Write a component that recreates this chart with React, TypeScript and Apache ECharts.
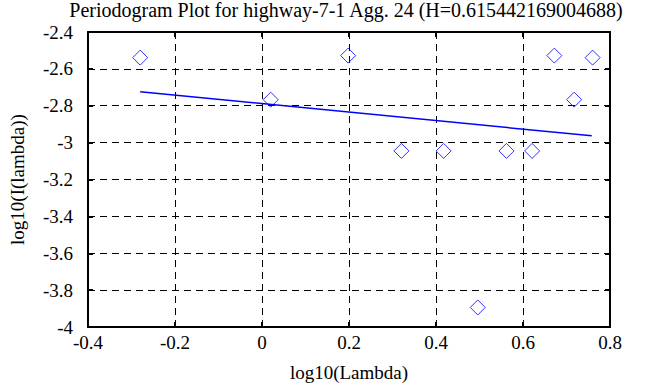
import React, { useEffect, useRef } from "react";
import * as echarts from "echarts";

const xValues = [-0.28, 0.02, 0.198, 0.3205, 0.4175, 0.496, 0.562, 0.621, 0.672, 0.7175, 0.76];
const yValues = [-2.539, -2.767, -2.528, -3.045, -3.045, -3.894, -3.045, -3.045, -2.528, -2.767, -2.539];
const fitX = [-0.28, 0.758];
const fitY = [-2.724, -2.963];
const titleText = "Periodogram Plot for highway-7-1 Agg. 24 (H=0.615442169004688)";

export default function App() {
  const ref = useRef<HTMLDivElement>(null);
  useEffect(() => {
    document.body.style.margin = "0";
    const chart = echarts.init(ref.current!, null, { renderer: "svg" });
    const font = "'Liberation Serif', 'Times New Roman', serif";
    const fs = 19;
    const dashed = { show: true, lineStyle: { color: "#000", type: [7, 5] as any, width: 1 } };
    const baseAxis = {
      axisLine: { show: true, onZero: false, lineStyle: { color: "#000", width: 2 } },
      axisTick: { show: true, inside: true, length: 5, lineStyle: { color: "#000", width: 2 } },
    };
    chart.setOption({
      animation: false,
      backgroundColor: "#fff",
      title: {
        text: titleText,
        left: 346,
        textAlign: "center",
        top: 0,
        padding: 0,
        textStyle: { fontFamily: font, fontSize: 20, fontWeight: "normal", color: "#000" },
      },
      grid: { left: 82, top: 32, right: 53, bottom: 56 },
      xAxis: [
        {
          type: "value",
          min: -0.4,
          max: 0.8,
          interval: 0.2,
          position: "bottom",
          ...baseAxis,
          splitLine: dashed,
          axisLabel: { color: "#000", fontFamily: font, fontSize: fs, margin: 6 },
          name: "log10(Lambda)",
          nameLocation: "middle",
          nameGap: 36,
          nameTextStyle: { color: "#000", fontFamily: font, fontSize: fs },
        },
        {
          type: "value",
          min: -0.4,
          max: 0.8,
          interval: 0.2,
          position: "top",
          ...baseAxis,
          splitLine: { show: false },
          axisLabel: { show: false },
        },
      ],
      yAxis: [
        {
          type: "value",
          min: -4,
          max: -2.4,
          interval: 0.2,
          position: "left",
          ...baseAxis,
          splitLine: dashed,
          axisLabel: { color: "#000", fontFamily: font, fontSize: fs, margin: 15 },
          name: "log10(I(lambda))",
          nameLocation: "middle",
          nameGap: 61,
          nameTextStyle: { color: "#000", fontFamily: font, fontSize: fs },
        },
        {
          type: "value",
          min: -4,
          max: -2.4,
          interval: 0.2,
          position: "right",
          ...baseAxis,
          splitLine: { show: false },
          axisLabel: { show: false },
        },
      ],
      series: [
        {
          type: "line",
          data: fitX.map((x, i) => [x, fitY[i]]),
          showSymbol: false,
          symbol: "none",
          lineStyle: { color: "#0000ff", width: 1.5 },
          z: 3,
        },
        {
          type: "scatter",
          data: xValues.map((x, i) => [x, yValues[i]]),
          symbol: "diamond",
          symbolSize: [15, 15],
          itemStyle: { color: "none", borderColor: "#0000ff", borderWidth: 1 },
          z: 4,
        },
      ],
    });
    return () => chart.dispose();
  }, []);
  return <div ref={ref} style={{ width: 663, height: 387 }} />;
}
